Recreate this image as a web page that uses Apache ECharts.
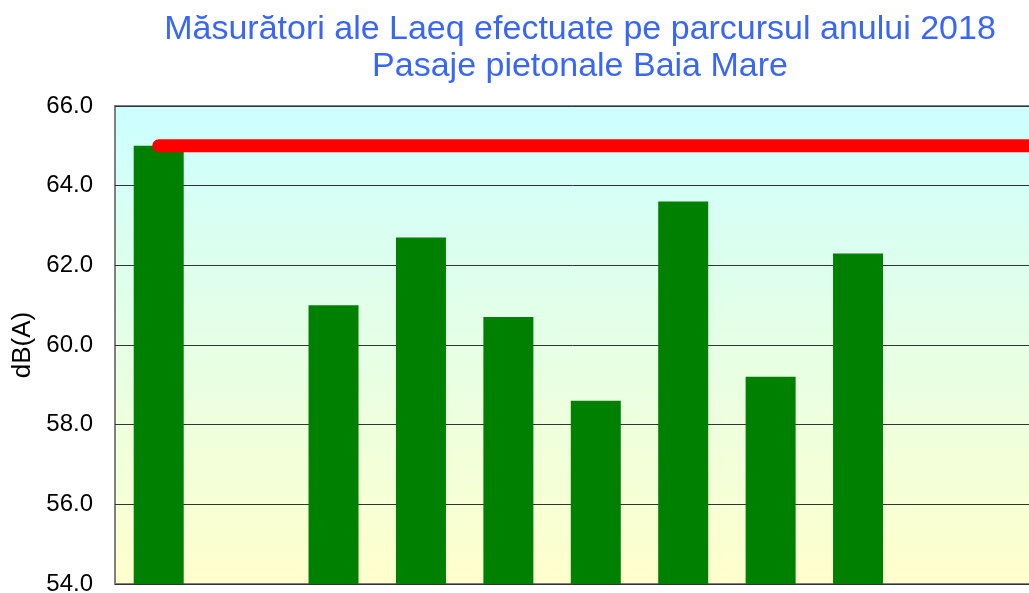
<!DOCTYPE html>
<html>
<head>
<meta charset="utf-8">
<script src="https://cdn.jsdelivr.net/npm/echarts@6/dist/echarts.min.js"></script>
<style>
  html, body { margin: 0; padding: 0; background: #fff; }
  #main { width: 1029px; height: 593px; }
</style>
</head>
<body>
<div id="main"></div>
<script>
// luni 2018 (ultimele ies din cadru in imaginea originala)
var luni = ["Ian", "Feb", "Mar", "Apr", "Mai", "Iun", "Iul", "Aug", "Sep", "Oct", "Noi", "Dec"];
var laeq = [65.0, null, 61.0, 62.7, 60.7, 58.6, 63.6, 59.2, 62.3, null, null, null];
var limita = [65, 65, 65, 65, 65, 65, 65, 65, 65, 65, 65, 65];
var yMin = 54, yMax = 66, yStep = 2;

var myChart = echarts.init(document.getElementById("main"));
myChart.setOption({
  animation: false,
  textStyle: { fontFamily: "Liberation Sans, Arial, sans-serif" },
  title: {
    text: "Măsurători ale Laeq efectuate pe parcursul anului 2018\nPasaje pietonale Baia Mare",
    left: 575,
    top: 6,
    textAlign: "center",
    textStyle: {
      color: "#3a66f5",
      fontSize: 34,
      fontWeight: "normal",
      lineHeight: 37,
    },
  },
  grid: {
    left: 115,
    top: 106,
    width: 1049, // graficul continua dincolo de marginea imaginii
    height: 478,
    outerBoundsMode: "none",
    show: true,
    borderColor: "#808080",
    borderWidth: 2,
    backgroundColor: {
      type: "linear", x: 0, y: 0, x2: 0, y2: 1,
      colorStops: [
        { offset: 0, color: "#ccffff" },
        { offset: 1, color: "#ffffcc" },
      ],
    },
  },
  xAxis: {
    type: "category",
    data: luni,
    axisLine: { show: false },
    axisTick: { show: false },
    axisLabel: { show: false },
  },
  yAxis: {
    type: "value",
    min: yMin,
    max: yMax,
    interval: yStep,
    name: "dB(A)",
    nameLocation: "middle",
    nameGap: 77,
    nameTextStyle: { color: "#000", fontSize: 26 },
    axisLine: { show: false },
    axisTick: { show: false },
    axisLabel: {
      color: "#000",
      fontSize: 24,
      margin: 22,
      formatter: function (v) { return v.toFixed(1); },
    },
    splitLine: { lineStyle: { color: "#333", width: 1 } },
  },
  series: [
    {
      name: "Laeq",
      type: "bar",
      data: laeq,
      barWidth: 50,
      itemStyle: { color: "#008000" },
    },
    {
      name: "Limita",
      type: "line",
      data: limita,
      symbol: "none",
      lineStyle: { color: "#ff0000", width: 13, cap: "round" },
      z: 5,
    },
  ],
});
</script>
</body>
</html>
